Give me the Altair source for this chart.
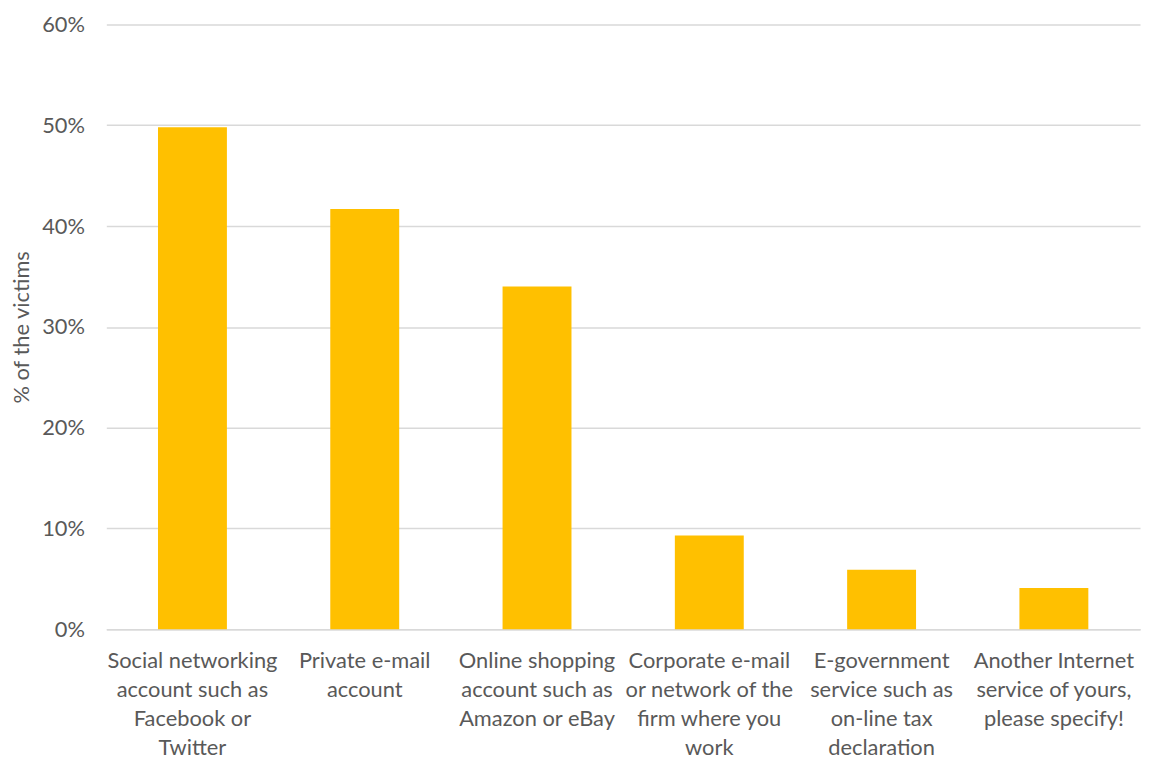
import altair as alt
import pandas as pd

categories = [
    "Social networking\naccount such as\nFacebook or\nTwitter",
    "Private e-mail\naccount",
    "Online shopping\naccount such as\nAmazon or eBay",
    "Corporate e-mail\nor network of the\nfirm where you\nwork",
    "E-government\nservice such as\non-line tax\ndeclaration",
    "Another Internet\nservice of yours,\nplease specify!",
]
values = [0.498, 0.417, 0.340, 0.093, 0.059, 0.041]

df = pd.DataFrame({"category": categories, "value": values})

FONT = "Lato"
GREY = "#595959"

chart = (
    alt.Chart(df)
    .mark_bar(color="#FFC000")
    .encode(
        x=alt.X(
            "category:N",
            sort=categories,
            title=None,
            scale=alt.Scale(paddingInner=0.6, paddingOuter=0.3),
            axis=alt.Axis(
                labelExpr="split(datum.label, '\\n')",
                labelAngle=0,
                labelFont=FONT,
                labelFontSize=22,
                labelColor=GREY,
                labelLineHeight=29.5,
                labelPadding=21,
                labelBaseline="top",
                ticks=False,
                domainColor="#D9D9D9",
                domainWidth=1.5,
                labelLimit=220,
            ),
        ),
        y=alt.Y(
            "value:Q",
            title="% of the victims",
            scale=alt.Scale(domain=[0, 0.6]),
            axis=alt.Axis(
                format=".0%",
                values=[0, 0.1, 0.2, 0.3, 0.4, 0.5, 0.6],
                labelFont=FONT,
                labelFontSize=22,
                labelColor=GREY,
                labelPadding=22,
                titleFont=FONT,
                titleFontSize=22,
                titleColor=GREY,
                titleFontWeight="normal",
                titlePadding=8,
                ticks=False,
                domain=False,
                gridColor="#D9D9D9",
                gridWidth=1.5,
            ),
        ),
    )
    .properties(
        width=1041,
        height=609,
        autosize=alt.AutoSizeParams(type="none"),
        padding={"left": 99, "top": 14, "right": 3, "bottom": 130},
    )
    .configure(background="white")
    .configure_view(stroke=None)
)

chart.save("out.html", embed_options={"renderer": "svg", "actions": False})
